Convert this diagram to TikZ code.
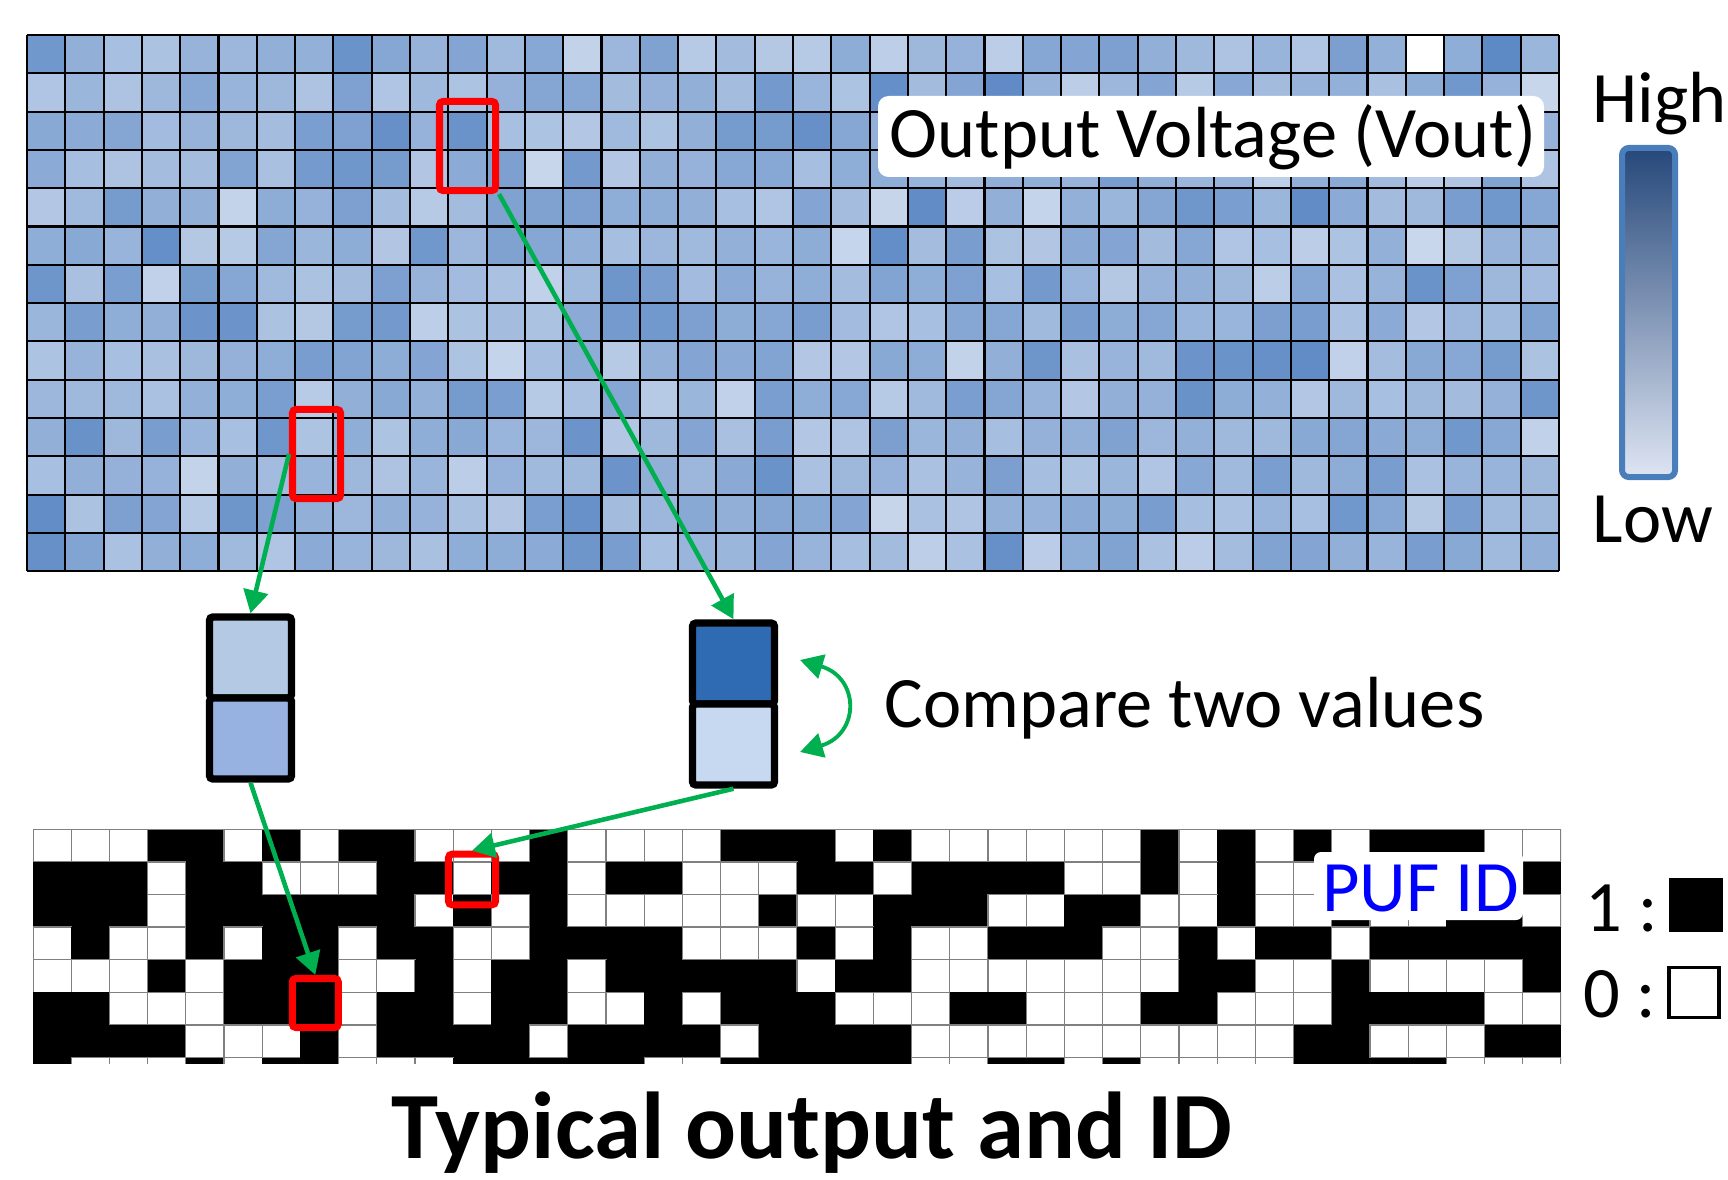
\documentclass[tikz,border=0pt]{standalone}
\usepackage{fontspec}
\setmainfont{Carlito}
\usetikzlibrary{arrows.meta}

\definecolor{vlo}{RGB}{212,223,240}
\definecolor{vhi}{RGB}{80,128,192}
\definecolor{arrowgreen}{RGB}{0,176,80}
\definecolor{barblue}{RGB}{74,126,187}
\definecolor{barhi}{RGB}{38,72,122}
\definecolor{barlo}{RGB}{222,229,243}
\definecolor{pufblue}{RGB}{0,0,255}
\definecolor{lefttop}{RGB}{180,201,227}
\definecolor{leftbot}{RGB}{151,177,224}
\definecolor{righttop}{RGB}{47,107,178}
\definecolor{rightbot}{RGB}{198,217,240}

\tikzset{
  lbl/.style={inner sep=0pt, font=\fontsize{20.6}{24}\selectfont},
  mapline/.style={black, line width=0.6pt},
  redbox/.style={draw=red, line width=2pt, rounded corners=1pt, inner sep=0pt},
  paircell/.style={draw=black, line width=2.1pt, rounded corners=1pt, inner sep=0pt,
    minimum width=0.82cm, minimum height=0.81cm},
  greenarrow/.style={draw=arrowgreen, line width=1.3pt, -{Triangle[length=6.5pt,width=7pt]}},
}

\begin{document}
\begin{tikzpicture}[x=0.01cm, y=-0.01cm]
\useasboundingbox (0,0) rectangle (1728,1179);

% output voltage map
\pgfmathsetseed{11}
\foreach \r in {0,...,13}{
  \foreach \c in {0,...,39}{
    \pgfmathtruncatemacro{\v}{8+42*(rnd+rnd)}
    \fill[vhi!\v!vlo] (27+38.3*\c,35+38.3*\r) rectangle ++(38.3,38.3);
  }
}
\fill[white] (27+38.3*36,35) rectangle ++(38.3,38.3);
\fill[vhi!90!vlo] (27+38.3*38,35) rectangle ++(38.3,38.3);
\fill[vhi!80!vlo] (27+38.3*11,35+38.3*2) rectangle ++(38.3,38.3);
\fill[vhi!55!vlo] (27+38.3*11,35+38.3*3) rectangle ++(38.3,38.3);
\fill[vhi!30!vlo] (27+38.3*7,35+38.3*10) rectangle ++(38.3,38.3);
\fill[vhi!45!vlo] (27+38.3*7,35+38.3*11) rectangle ++(38.3,38.3);
\foreach \c in {0,...,40} \draw[mapline] (27+38.3*\c,35) -- (27+38.3*\c,571.2);
\foreach \r in {0,...,14} \draw[mapline] (27,35+38.3*\r) -- (1559,35+38.3*\r);

\fill[white, rounded corners=3pt] (878,96) rectangle (1544,177);
\node[lbl, anchor=base] (vout) at (1213,157) {Output Voltage (Vout)};

% colour scale
\node[draw=barblue, line width=1.7pt, rounded corners=2pt, inner sep=0pt,
  top color=barhi, bottom color=barlo, minimum width=0.53cm, minimum height=3.29cm] (cbar) at (1648.5,312.5) {};
\node[lbl, anchor=base west] (high) at (1592,123) {High};
\node[lbl, anchor=base west] (low) at (1592,542) {Low};

% PUF ID map
\begin{scope}
\clip (33,829.3) rectangle (1561,1063.3);
\foreach \b [count=\i from 0] in {%
0,0,0,1,1,0,1,0,1,1,0,0,0,1,0,0,0,0,1,1,1,0,1,0,0,0,0,0,0,1,0,1,0,1,0,1,1,1,0,0,%
1,1,1,0,1,1,0,0,0,1,1,0,1,1,0,1,1,0,0,0,1,1,0,1,1,1,1,0,0,1,0,1,0,0,0,0,0,0,0,1,%
1,1,1,0,1,1,1,1,1,1,0,1,0,1,0,0,0,0,0,1,0,0,1,1,1,0,0,1,1,0,0,1,0,0,1,0,0,1,1,0,%
0,1,0,0,1,0,1,1,0,1,1,0,0,1,1,1,1,0,0,0,1,0,1,0,0,1,1,1,0,0,1,0,1,1,0,1,1,1,1,1,%
0,0,0,1,0,1,1,1,0,0,1,0,1,1,0,1,1,1,1,1,0,1,1,0,0,0,0,0,0,0,1,1,0,0,1,0,0,0,0,1,%
1,1,0,0,0,1,1,1,0,1,1,0,1,1,0,0,1,0,1,1,1,0,0,0,1,1,0,0,0,1,1,0,0,0,1,1,1,1,0,0,%
1,1,1,1,0,0,0,1,0,1,1,1,1,0,1,1,1,1,0,1,1,1,1,0,0,0,0,0,0,0,0,0,0,1,1,0,0,0,1,1,%
1,0,0,0,1,0,1,1,0,0,0,1,1,1,1,1,0,0,1,1,1,1,1,0,0,1,1,0,1,0,0,0,0,1,1,1,1,0,0,0}{
  \pgfmathtruncatemacro{\r}{div(\i,40)}
  \pgfmathtruncatemacro{\c}{mod(\i,40)}
  \ifnum\b=1
    \fill[black] (33+38.2*\c,829.3+32.6*\r) rectangle ++(38.2,32.6);
  \else
    \filldraw[fill=white, draw=gray, line width=0.35pt] (33+38.2*\c,829.3+32.6*\r) rectangle ++(38.2,32.6);
  \fi
}
\end{scope}
\draw[gray, line width=0.35pt] (33,829.3) -- (1561,829.3);

\fill[white, rounded corners=2pt] (1314,852) rectangle (1523,920);
\node[lbl, anchor=base, text=pufblue] (pufid) at (1420.5,911.7) {PUF ID};

% legend
\node[lbl, anchor=base west] (one) at (1585,931) {1 :};
\node[draw, fill=black, inner sep=0pt, minimum size=0.53cm] (onesq) at (1696,905) {};
\node[lbl, anchor=base west] (zero) at (1583,1017) {0 :};
\node[draw=black, line width=0.9pt, fill=white, inner sep=0pt, minimum size=0.5cm] (zerosq) at (1694,992.5) {};

% selected cells
\node[redbox, minimum width=0.56cm, minimum height=0.89cm] (boxA) at (467.5,146) {};
\node[redbox, minimum width=0.48cm, minimum height=0.89cm] (boxB) at (316.5,454) {};
\node[redbox, minimum width=0.47cm, minimum height=0.506cm] (boxC) at (472,879.5) {};
\node[redbox, minimum width=0.46cm, minimum height=0.49cm] (boxD) at (315.3,1003) {};

% pairs
\node[paircell, fill=lefttop] (leftA) at (250.5,657.5) {};
\node[paircell, fill=leftbot] (leftB) at (250.5,738.5) {};
\node[paircell, fill=righttop] (rightA) at (733.5,663.5) {};
\node[paircell, fill=rightbot] (rightB) at (733.5,744.5) {};

\draw[greenarrow] (boxA.south east) -- (rightA.north);
\draw[greenarrow] (boxB.west) -- (leftA.north);
\draw[greenarrow] (leftB.south) -- (boxD.north);
\draw[greenarrow] (rightB.south) -- (boxC.north);

\coordinate (cmpT) at (800,660);
\coordinate (cmpB) at (800,752);
\draw[greenarrow, line width=1.1pt, {Triangle[length=6.5pt,width=7pt]}-{Triangle[length=6.5pt,width=7pt]}]
  (cmpT) .. controls (860,678) and (860,734) .. (cmpB);
\node[lbl, anchor=base west] (cmp) at (884,727) {Compare two values};

\node[anchor=base, inner sep=0pt, font=\fontsize{27}{32}\selectfont\bfseries] (title) at (812,1158) {Typical output and ID};

\end{tikzpicture}
\end{document}
